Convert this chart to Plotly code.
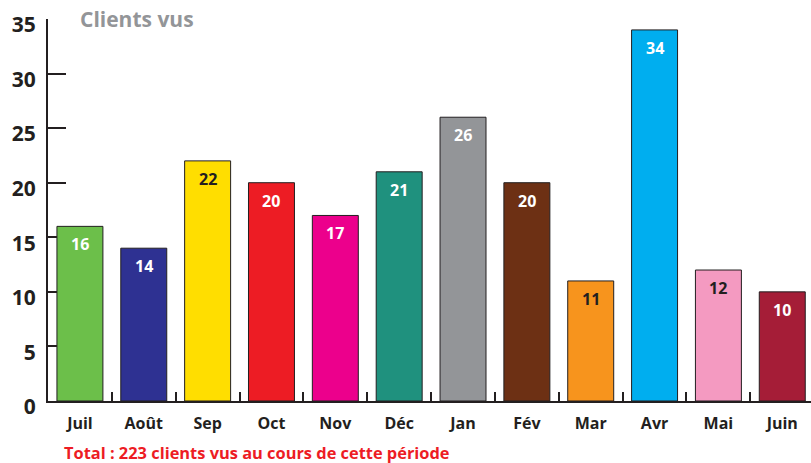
import plotly.graph_objects as go

months = ["Juil", "Août", "Sep", "Oct", "Nov", "Déc", "Jan", "Fév", "Mar", "Avr", "Mai", "Juin"]
clients = [16, 14, 22, 20, 17, 21, 26, 20, 11, 34, 12, 10]
bar_colors = ["#6cbf4a", "#2e3192", "#ffde00", "#ed1c24", "#ec008c", "#1f917e",
              "#939598", "#6d3014", "#f7941d", "#00aeef", "#f49ac1", "#a51d37"]
label_colors = ["#ffffff", "#ffffff", "#231f20", "#ffffff", "#ffffff", "#ffffff",
                "#ffffff", "#ffffff", "#231f20", "#ffffff", "#231f20", "#ffffff"]
y_ticks = [0, 5, 10, 15, 20, 25, 30, 35]
title_text = "Clients vus"
footer_text = "Total : 223 clients vus au cours de cette période"

FONT = "Open Sans"
DARK = "#231f20"

W, H = 811, 463
ML, MR, MT, MB = 48, 0, 19, 62
PW, PH = W - ML - MR, H - MT - MB

fig = go.Figure()
fig.add_trace(go.Bar(
    x=months, y=clients,
    marker=dict(color=bar_colors, line=dict(color=DARK, width=1)),
    width=0.72,
    hoverinfo="x+y",
))

annotations = []
for m, v, c in zip(months, clients, label_colors):
    annotations.append(dict(
        x=m, y=v, xref="x", yref="y", text=f"<b>{v}</b>", showarrow=False,
        yanchor="top", yshift=-5, font=dict(family=FONT, size=16, color=c),
    ))

annotations.append(dict(
    x=(62 - ML) / PW, y=(H - MB - 452) / PH,
    xref="paper", yref="paper", xanchor="left", yanchor="middle",
    text=f"<b>{footer_text}</b>", showarrow=False,
    font=dict(family=FONT, size=16.4, color="#ed1c24"),
))

fig.update_layout(
    width=W, height=H,
    margin=dict(l=ML, r=MR, t=MT, b=MB, pad=0, autoexpand=False),
    paper_bgcolor="white", plot_bgcolor="white",
    showlegend=False,
    title=dict(text=f"<b>{title_text}</b>", x=80 / W, xanchor="left",
               y=1 - 20 / H, yanchor="middle",
               font=dict(family=FONT, size=21, color="#939598")),
    annotations=annotations,
    xaxis=dict(
        type="category", range=[-0.5, 11.45], automargin=False,
        showline=True, linecolor=DARK, linewidth=2,
        ticks="inside", tickson="boundaries", ticklen=9, tickcolor=DARK, tickwidth=1.5,
        showgrid=False, zeroline=False,
        tickfont=dict(family=FONT, size=16, color=DARK, weight="bold"),
        ticklabelstandoff=7,
        layer="below traces",
    ),
    yaxis=dict(
        range=[0, 35.0001], tickvals=y_ticks, automargin=False,
        showline=True, linecolor=DARK, linewidth=2,
        ticks="inside", ticklen=18, tickcolor=DARK, tickwidth=1.5,
        showgrid=False, zeroline=False,
        tickfont=dict(family=FONT, size=21, color=DARK, weight="bold"),
        ticklabelstandoff=6, ticklabelshift=6,
        layer="below traces",
    ),
)

# remove the browser's default page margin so the figure fills the window
fig.write_html(
    "out.html",
    config={"displayModeBar": False},
    post_script="document.body.style.margin='0';document.body.style.overflow='hidden';",
)
